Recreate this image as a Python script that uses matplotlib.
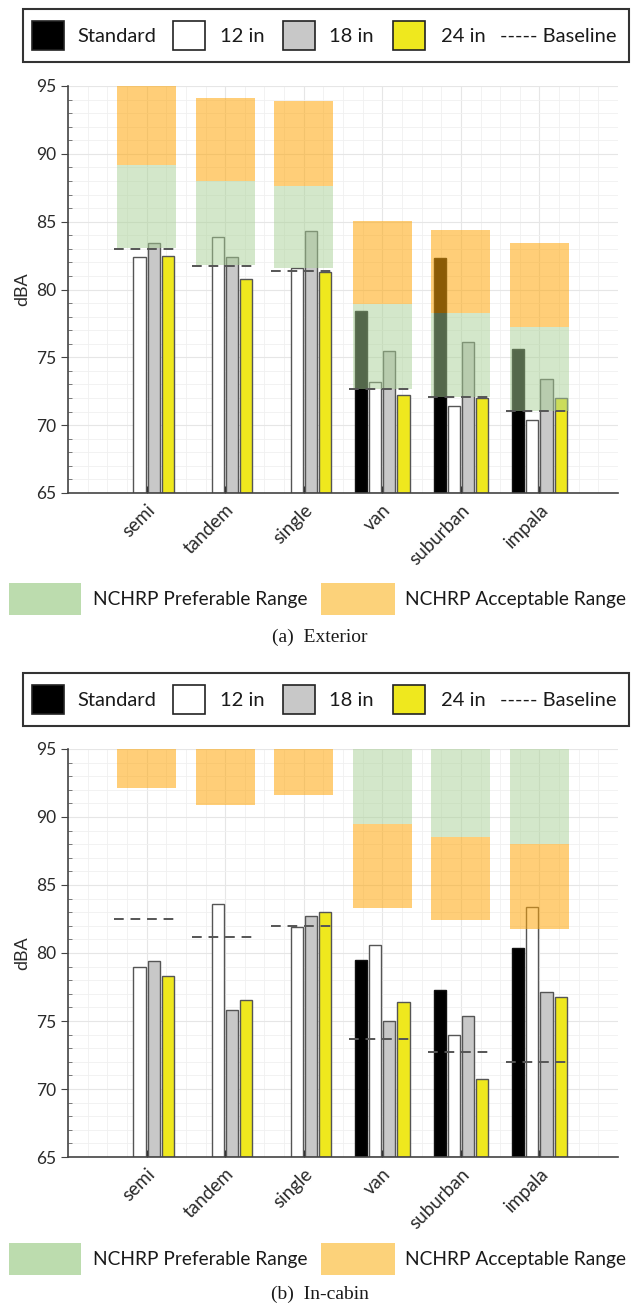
import matplotlib
matplotlib.use('Agg')
import matplotlib.pyplot as plt
import matplotlib.transforms as mtransforms
from matplotlib.patches import Rectangle
from matplotlib.ticker import MultipleLocator
import numpy as np

plt.rcParams['font.family'] = ['Lato', 'DejaVu Sans']

W, H = 634, 1307

vehicles = ['semi', 'tandem', 'single', 'van', 'suburban', 'impala']
series = ['Standard', '12 in', '18 in', '24 in']
bar_colors = ['#000000', '#ffffff', '#c8c8c8', '#efe81e']

# (a) exterior
ext_standard = [np.nan, np.nan, np.nan, 78.4, 82.35, 75.65]
ext_12in = [82.4, 83.9, 81.55, 73.2, 71.4, 70.4]
ext_18in = [83.4, 82.4, 84.3, 75.5, 76.1, 73.4]
ext_24in = [82.45, 80.8, 81.3, 72.2, 72.0, 72.0]
ext_baseline = [83.0, 81.7, 81.4, 72.7, 72.05, 71.05]
ext_pref_lo = [83.05, 81.8, 81.6, 72.7, 72.05, 71.05]
ext_pref_hi = [89.2, 88.0, 87.6, 78.9, 78.3, 77.2]
ext_acc_lo = [89.2, 88.0, 87.6, 78.9, 78.3, 77.2]
ext_acc_hi = [95.0, 94.1, 93.9, 85.05, 84.4, 83.45]

# (b) in-cabin
cab_standard = [np.nan, np.nan, np.nan, 79.5, 77.3, 80.35]
cab_12in = [79.0, 83.6, 81.9, 80.6, 74.0, 83.4]
cab_18in = [79.4, 75.8, 82.7, 75.0, 75.4, 77.1]
cab_24in = [78.3, 76.55, 83.0, 76.4, 70.7, 76.8]
cab_baseline = [82.5, 81.2, 81.95, 73.7, 72.7, 72.0]
cab_pref_lo = [np.nan, np.nan, np.nan, 89.5, 88.55, 88.0]
cab_pref_hi = [np.nan, np.nan, np.nan, 95.0, 95.0, 95.0]
cab_acc_lo = [92.1, 90.9, 91.6, 83.3, 82.4, 81.8]
cab_acc_hi = [95.0, 95.0, 95.0, 89.5, 88.55, 88.0]

green = '#a9d196'
orange = '#ffa70a'
green_leg = '#bcdcae'
orange_leg = '#fcd27a'
edge = '#555555'
ink = '#1a1a1a'


def fx(px):
    return px / W


def fy(py):
    return 1 - py / H


def draw_panel(ax, values, baseline, pref_lo, pref_hi, acc_lo, acc_hi):
    x = np.arange(len(vehicles))
    offsets = [-0.27, -0.09, 0.09, 0.27]
    for vals, off, col in zip(values, offsets, bar_colors):
        vals = np.array(vals)
        ax.bar(x + off, vals - 65, bottom=65, width=0.155, color=col,
               edgecolor='#111111' if col == '#000000' else edge,
               linewidth=1.0, zorder=2)
    pl = np.array(pref_lo)
    ph = np.array(pref_hi)
    ok = ~np.isnan(pl)
    ax.bar(x[ok], ph[ok] - pl[ok], bottom=pl[ok], width=0.75, color=green,
           alpha=0.5, linewidth=0, zorder=3)
    al = np.array(acc_lo)
    ah = np.array(acc_hi)
    ax.bar(x, ah - al, bottom=al, width=0.75, color=orange, alpha=0.55,
           linewidth=0, zorder=3)
    ax.hlines(baseline, x - 0.42, x + 0.38, colors='#555555', linestyles=(0, (5, 3.5)),
              linewidth=1.4, zorder=4)

    ax.set_xlim(-1.0, 6.0)
    ax.set_ylim(65, 95)
    ax.set_xticks(x)
    ax.set_xticklabels(vehicles, rotation=45, ha='right', va='top',
                       rotation_mode='anchor', fontsize=13.5, color='#2a2a2a')
    shift = mtransforms.ScaledTranslation(0.10, -0.02, fig.dpi_scale_trans)
    for lab in ax.get_xticklabels():
        lab.set_transform(lab.get_transform() + shift)
    ax.set_yticks([65, 70, 75, 80, 85, 90, 95])
    ax.yaxis.set_minor_locator(MultipleLocator(1))
    ax.xaxis.set_minor_locator(MultipleLocator(0.25))
    ax.tick_params(axis='y', which='major', direction='out', length=5,
                   labelsize=12.5, labelcolor='#2a2a2a', color='#444444')
    ax.tick_params(axis='y', which='minor', direction='in', length=3, color='#666666')
    ax.tick_params(axis='x', which='major', direction='in', length=5, color='#222222', pad=6)
    ax.tick_params(axis='x', which='minor', length=0)
    ax.set_ylabel('dBA', fontsize=13, color='#2a2a2a', labelpad=4)
    ax.grid(which='major', color='#e6e6e6', linewidth=0.8, zorder=0)
    ax.grid(which='minor', color='#f0f0f0', linewidth=0.6, zorder=0)
    ax.set_axisbelow(True)
    for s in ['top', 'right']:
        ax.spines[s].set_visible(False)
    for s in ['left', 'bottom']:
        ax.spines[s].set_color('#444444')
        ax.spines[s].set_linewidth(1.2)


def top_legend(fig, top):
    fig.patches.append(Rectangle((fx(23), fy(top + 53)), fx(606), 53 / H,
                                 transform=fig.transFigure, fill=False,
                                 edgecolor='#333333', linewidth=1.5))
    sq_x = [32, 173, 283, 393]
    tx_x = [77, 220, 329, 441]
    for sx, tx, col, lab in zip(sq_x, tx_x, bar_colors, series):
        fig.patches.append(Rectangle((fx(sx), fy(top + 41)), fx(32), 29 / H,
                                     transform=fig.transFigure, facecolor=col,
                                     edgecolor='#222222', linewidth=1.2))
        fig.text(fx(tx), fy(top + 27), lab, fontsize=14.5, va='center',
                 ha='left', color=ink)
    fig.text(fx(500), fy(top + 27), '----- Baseline', fontsize=14.5,
             va='center', ha='left', color=ink)


def bottom_legend(fig, top, caption, cap_y):
    fig.patches.append(Rectangle((fx(9), fy(top + 32)), fx(72), 32 / H,
                                 transform=fig.transFigure, facecolor=green_leg,
                                 linewidth=0))
    fig.text(fx(93), fy(top + 17), 'NCHRP Preferable Range', fontsize=13.8,
             va='center', ha='left', color=ink)
    fig.patches.append(Rectangle((fx(321), fy(top + 32)), fx(74), 32 / H,
                                 transform=fig.transFigure, facecolor=orange_leg,
                                 linewidth=0))
    fig.text(fx(405), fy(top + 17), 'NCHRP Acceptable Range', fontsize=13.8,
             va='center', ha='left', color=ink)
    fig.text(fx(320), fy(cap_y), caption, fontsize=14, va='center',
             ha='center', color=ink, family='Liberation Serif')


fig = plt.figure(figsize=(W / 100, H / 100), dpi=100)

ax1 = fig.add_axes([fx(68), fy(493), fx(550), 407 / H])
draw_panel(ax1, [ext_standard, ext_12in, ext_18in, ext_24in], ext_baseline,
           ext_pref_lo, ext_pref_hi, ext_acc_lo, ext_acc_hi)

ax2 = fig.add_axes([fx(68), fy(1157), fx(550), 408 / H])
draw_panel(ax2, [cab_standard, cab_12in, cab_18in, cab_24in], cab_baseline,
           cab_pref_lo, cab_pref_hi, cab_acc_lo, cab_acc_hi)

top_legend(fig, 9)
top_legend(fig, 673)
bottom_legend(fig, 583, '(a)  Exterior', 637)
bottom_legend(fig, 1243, '(b)  In-cabin', 1294)

fig.savefig('out.png', dpi=100)
